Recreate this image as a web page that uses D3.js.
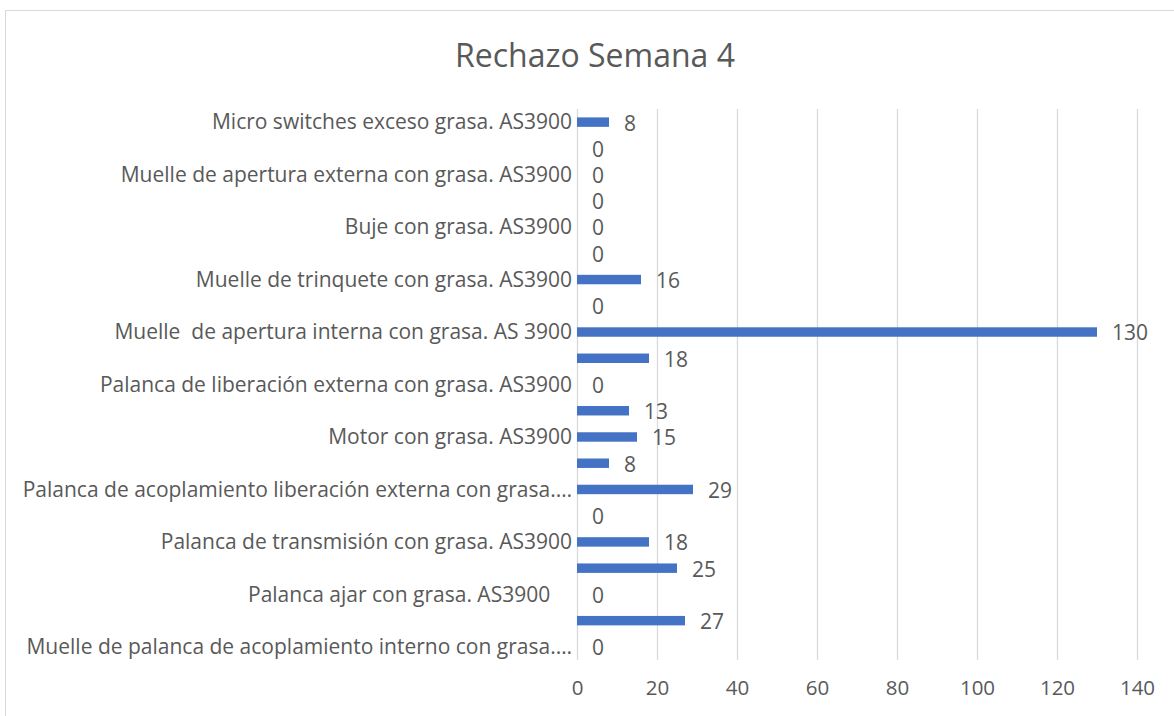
<!DOCTYPE html>
<html>
<head>
<meta charset="utf-8">
<script src="https://cdn.jsdelivr.net/npm/d3@7"></script>
<style>
  html, body { margin: 0; padding: 0; background: #fff; }
  svg { display: block; }
  text { font-family: "Open Sans", sans-serif; fill: #595959; white-space: pre; }
</style>
</head>
<body>
<svg id="chart" width="1174" height="716"></svg>
<script>
// Categories listed top to bottom; only every other row carries a visible label.
const categories = [
  "Micro switches exceso grasa. AS3900",
  "",
  "Muelle de apertura externa con grasa. AS3900",
  "",
  "Buje con grasa. AS3900",
  "",
  "Muelle de trinquete con grasa. AS3900",
  "",
  "Muelle  de apertura interna con grasa. AS 3900",
  "",
  "Palanca de liberación externa con grasa. AS3900",
  "",
  "Motor con grasa. AS3900",
  "",
  "Palanca de acoplamiento liberación externa con grasa.…",
  "",
  "Palanca de transmisión con grasa. AS3900",
  "",
  "Palanca ajar con grasa. AS3900    ",
  "",
  "Muelle de palanca de acoplamiento interno con grasa.…"
];
const values = [8, 0, 0, 0, 0, 0, 16, 0, 130, 18, 0, 13, 15, 8, 29, 0, 18, 25, 0, 27, 0];
const xTicks = [0, 20, 40, 60, 80, 100, 120, 140];
const title = "Rechazo Semana 4";

const svg = d3.select("#chart");
const W = 1174, H = 716;
const FONT = "'Open Sans', sans-serif";

// Chart frame
svg.append("rect")
  .attr("x", 5.5).attr("y", 10.5)
  .attr("width", W + 10).attr("height", H + 10)
  .attr("fill", "#fff").attr("stroke", "#d9d9d9").attr("stroke-width", 1);

const plot = { left: 577, right: 1137, top: 109, bottom: 660 };

const x = d3.scaleLinear().domain([0, 140]).range([plot.left, plot.right]);
const y = d3.scaleBand()
  .domain(d3.range(categories.length))
  .range([plot.top, plot.bottom])
  .paddingInner(0.64).paddingOuter(0.32);

// Vertical gridlines
svg.append("g")
  .selectAll("line")
  .data(xTicks)
  .join("line")
  .attr("x1", d => Math.round(x(d)) + 0.5).attr("x2", d => Math.round(x(d)) + 0.5)
  .attr("y1", plot.top).attr("y2", plot.bottom)
  .attr("stroke", "#d9d9d9").attr("stroke-width", 1.3);

// Bottom axis labels
const xAxis = d3.axisBottom(x).tickValues(xTicks).tickSize(0).tickPadding(0);
const gx = svg.append("g").attr("transform", `translate(0,${plot.bottom + 20})`).call(xAxis);
gx.select(".domain").remove();
gx.selectAll("text")
  .attr("font-size", 20.5).attr("dy", "0.71em")
  .style("font-family", FONT).attr("fill", "#595959");

// Left category labels
const yAxis = d3.axisLeft(y).tickFormat(i => categories[i]).tickSize(0).tickPadding(0);
const gy = svg.append("g").attr("transform", `translate(${plot.left - 5},0)`).call(yAxis);
gy.select(".domain").remove();
gy.selectAll("text")
  .attr("font-size", 21).attr("dy", "0.35em")
  .style("font-family", FONT).style("white-space", "pre").attr("fill", "#595959");

// Bars
svg.append("g")
  .selectAll("rect")
  .data(values)
  .join("rect")
  .attr("x", x(0))
  .attr("y", (d, i) => y(i))
  .attr("width", d => x(d) - x(0))
  .attr("height", y.bandwidth())
  .attr("fill", "#4472c4");

// Value labels
svg.append("g")
  .selectAll("text")
  .data(values)
  .join("text")
  .attr("x", d => x(d) + 15)
  .attr("y", (d, i) => y(i) + y.bandwidth() / 2)
  .attr("dy", "0.4em")
  .attr("font-size", 21)
  .attr("fill", "#404040")
  .text(d => d);

// Title
svg.append("text")
  .attr("x", 595).attr("y", 67)
  .attr("text-anchor", "middle")
  .attr("font-size", 32)
  .text(title);
</script>
</body>
</html>
